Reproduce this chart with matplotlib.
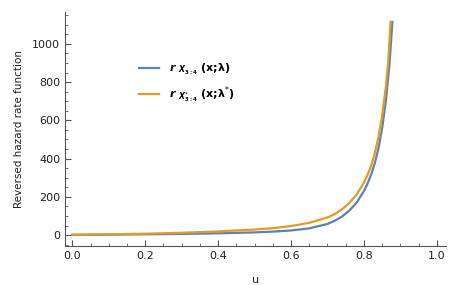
import numpy as np
import matplotlib.pyplot as plt
from matplotlib.ticker import MultipleLocator

# values
u_blue = [0.0, 0.1, 0.2, 0.3, 0.4, 0.5, 0.55, 0.6, 0.65, 0.7, 0.72, 0.74, 0.76,
          0.78, 0.8, 0.81, 0.82, 0.83, 0.84, 0.85, 0.86, 0.87, 0.878]
r_blue = [1, 2, 4, 6, 9, 14, 18, 24, 35, 58, 75, 97, 128,
          170, 230, 270, 318, 378, 455, 560, 700, 890, 1115]

u_orange = [0.0, 0.1, 0.2, 0.3, 0.4, 0.5, 0.55, 0.6, 0.65, 0.7, 0.72, 0.74, 0.76,
            0.78, 0.8, 0.81, 0.82, 0.83, 0.84, 0.85, 0.86, 0.866, 0.873]
r_orange = [2, 4, 7, 12, 19, 29, 36, 47, 64, 92, 110, 135, 168,
            212, 275, 315, 365, 430, 515, 625, 775, 890, 1115]

blue = "#5E81B5"
orange = "#E19C24"
axis_gray = "#555555"

fig = plt.figure(figsize=(4.66, 2.85), dpi=100)
ax = fig.add_axes([0.1395, 0.137, 0.8175, 0.821])

ax.plot(u_blue, r_blue, color=blue, linewidth=1.6,
        label=r"$\mathbfit{r}\ _{\mathbfit{X}_{\mathbf{3:4}}}$ (x;λ)")
ax.plot(u_orange, r_orange, color=orange, linewidth=1.6,
        label=r"$\mathbfit{r}\ _{\mathbfit{X}^{*}_{\mathbf{3:4}}}$ (x;λ$^{*}$)")

ax.set_xlim(-0.02, 1.025)
ax.set_ylim(-57, 1167)

ax.xaxis.set_major_locator(MultipleLocator(0.2))
ax.xaxis.set_minor_locator(MultipleLocator(0.05))
ax.yaxis.set_major_locator(MultipleLocator(200))
ax.yaxis.set_minor_locator(MultipleLocator(50))
ax.xaxis.set_major_formatter(plt.FuncFormatter(lambda v, p: f"{v:.1f}"))

for side in ["top", "right"]:
    ax.spines[side].set_visible(False)
for side in ["left", "bottom"]:
    ax.spines[side].set_color(axis_gray)
    ax.spines[side].set_linewidth(0.8)

ax.tick_params(which="both", direction="in", color=axis_gray, labelsize=8,
               labelcolor="#222222")
ax.tick_params(which="major", length=4, width=0.8)
ax.tick_params(which="minor", length=2, width=0.6)

ax.set_xlabel("u", fontsize=8, color="#222222", labelpad=10)
ax.set_ylabel("Reversed hazard rate function", fontsize=7.5, color="#222222",
              labelpad=6)

leg = ax.legend(loc="upper left", bbox_to_anchor=(0.167, 0.83), frameon=False,
                handlelength=1.8, handletextpad=0.9, labelspacing=0.7,
                prop={"size": 8, "weight": "bold"})

fig.savefig("out.png", dpi=100)
